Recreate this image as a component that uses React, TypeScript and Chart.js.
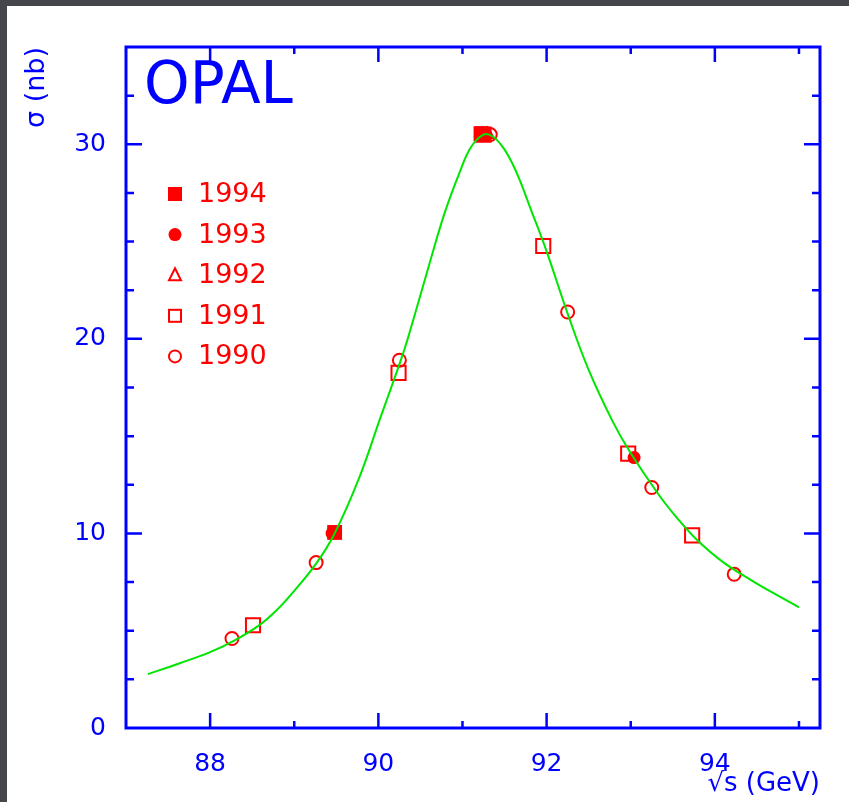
import React, { useEffect, useRef } from "react";
import { Chart, registerables } from "chart.js";

Chart.register(...registerables);

// ---------- data ----------
const experimentName = "OPAL";
const seriesNames = ["1994", "1993", "1992", "1991", "1990"];

const x1994 = [89.48, 91.22];
const y1994 = [10.05, 30.55];

const x1993 = [89.45, 91.28, 93.04];
const y1993 = [10.0, 30.45, 13.9];

const x1992 = [91.3];
const y1992 = [30.5];

const x1991 = [88.51, 90.24, 91.25, 91.96, 92.97, 93.73];
const y1991 = [5.28, 18.25, 30.5, 24.77, 14.1, 9.9];

const x1990 = [88.26, 89.26, 90.25, 91.33, 92.25, 93.25, 94.23];
const y1990 = [4.6, 8.5, 18.9, 30.5, 21.38, 12.36, 7.9];

const fitX = [
  87.26, 87.64, 88.0, 88.27, 88.59, 88.79, 88.98, 89.26, 89.48, 89.78, 90.02,
  90.29, 90.43, 90.61, 90.79, 90.97, 91.1, 91.25, 91.36, 91.48, 91.6, 91.7,
  91.8, 92.0, 92.25, 92.5, 92.78, 92.99, 93.34, 93.54, 93.78, 94.09, 94.45,
  94.73, 95.0,
];
const fitY = [
  2.77, 3.33, 3.9, 4.45, 5.3, 6.05, 6.95, 8.45, 10.0, 12.95, 15.9, 19.2, 21.2,
  23.9, 26.5, 28.6, 29.85, 30.5, 30.4, 29.85, 28.95, 27.95, 26.8, 24.5, 21.3,
  18.4, 15.8, 14.2, 11.95, 10.85, 9.7, 8.55, 7.55, 6.85, 6.2,
];

const xTickLabels = [88, 90, 92, 94];
const xMinorTicks = [88, 89, 90, 91, 92, 93, 94, 95];
const yTickLabels = [0, 10, 20, 30];
const yMinorTicks = [2.5, 5, 7.5, 10, 12.5, 15, 17.5, 20, 22.5, 25, 27.5, 30, 32.5];

const xTitle = "√s (GeV)";
const yTitle = "σ (nb)";

// ---------- styles ----------
const BLUE = "#0000ff";
const RED = "#ff0000";
const GREEN = "#00e600";
const FONT = "DejaVu Sans";

type Sym = "fsquare" | "fcircle" | "otriangle" | "osquare" | "ocircle";
const seriesSymbols: Sym[] = ["fsquare", "fcircle", "otriangle", "osquare", "ocircle"];

function drawLegendSymbol(ctx: CanvasRenderingContext2D, s: Sym, cx: number, cy: number) {
  ctx.fillStyle = RED;
  ctx.strokeStyle = RED;
  ctx.lineWidth = 2;
  ctx.beginPath();
  if (s === "fsquare") {
    ctx.fillRect(cx - 7, cy - 7, 14, 14);
  } else if (s === "fcircle") {
    ctx.arc(cx, cy, 6.5, 0, Math.PI * 2);
    ctx.fill();
  } else if (s === "otriangle") {
    ctx.moveTo(cx, cy - 7);
    ctx.lineTo(cx + 6, cy + 5);
    ctx.lineTo(cx - 6, cy + 5);
    ctx.closePath();
    ctx.stroke();
  } else if (s === "osquare") {
    ctx.strokeRect(cx - 6, cy - 6, 12, 12);
  } else {
    ctx.arc(cx, cy, 6, 0, Math.PI * 2);
    ctx.stroke();
  }
}

const framePlugin = {
  id: "opalFrame",
  afterDatasetsDraw(chart: any) {
    const { ctx, chartArea: a, scales } = chart;
    const xs = scales.x;
    const ys = scales.y;
    ctx.save();
    // frame
    ctx.strokeStyle = BLUE;
    ctx.lineWidth = 3;
    ctx.strokeRect(a.left, a.top, a.right - a.left, a.bottom - a.top);
    // inward ticks
    ctx.lineWidth = 2.5;
    ctx.beginPath();
    for (const v of xMinorTicks) {
      const len = xTickLabels.includes(v) ? 15 : 7;
      const px = xs.getPixelForValue(v);
      ctx.moveTo(px, a.bottom);
      ctx.lineTo(px, a.bottom - len);
      ctx.moveTo(px, a.top);
      ctx.lineTo(px, a.top + len);
    }
    for (const v of yMinorTicks) {
      const len = yTickLabels.includes(v) ? 16 : 8;
      const py = ys.getPixelForValue(v);
      ctx.moveTo(a.left, py);
      ctx.lineTo(a.left + len, py);
      ctx.moveTo(a.right, py);
      ctx.lineTo(a.right - len, py);
    }
    ctx.stroke();
    // experiment label
    ctx.fillStyle = BLUE;
    ctx.font = `58px "${FONT}"`;
    ctx.textAlign = "left";
    ctx.textBaseline = "alphabetic";
    ctx.fillText(experimentName, a.left + 18, a.top + 56);
    // legend
    ctx.font = `27px "${FONT}"`;
    ctx.textBaseline = "middle";
    seriesNames.forEach((name, i) => {
      const cy = a.top + 147 + i * 40.6;
      drawLegendSymbol(ctx, seriesSymbols[i], a.left + 49, cy);
      ctx.fillStyle = RED;
      ctx.fillText(name, a.left + 72, cy + 1);
    });
    ctx.restore();
  },
};

function pts(xs: number[], ys: number[]) {
  return xs.map((v, i) => ({ x: v, y: ys[i] }));
}

export default function App() {
  const ref = useRef<HTMLCanvasElement | null>(null);

  useEffect(() => {
    if (!ref.current) return;
    const common = { showLine: false, borderColor: RED, backgroundColor: RED };
    const chart = new Chart(ref.current, {
      type: "scatter",
      data: {
        datasets: [
          {
            label: "fit",
            data: pts(fitX, fitY),
            showLine: true,
            borderColor: GREEN,
            backgroundColor: GREEN,
            borderWidth: 2,
            pointRadius: 0,
            tension: 0.4,
            fill: false,
          } as any,
          { ...common, label: seriesNames[0], data: pts(x1994, y1994), pointStyle: "rect", pointRadius: 10.5, borderWidth: 0 },
          { ...common, label: seriesNames[1], data: pts(x1993, y1993), pointStyle: "circle", pointRadius: 6.5, borderWidth: 0 },
          { ...common, label: seriesNames[2], data: pts(x1992, y1992), pointStyle: "triangle", pointRadius: 7, borderWidth: 2, backgroundColor: "rgba(0,0,0,0)" },
          { ...common, label: seriesNames[3], data: pts(x1991, y1991), pointStyle: "rect", pointRadius: 10, borderWidth: 2, backgroundColor: "rgba(0,0,0,0)" },
          { ...common, label: seriesNames[4], data: pts(x1990, y1990), pointStyle: "circle", pointRadius: 6.5, borderWidth: 2, backgroundColor: "rgba(0,0,0,0)" },
        ],
      },
      options: {
        animation: false,
        responsive: false,
        devicePixelRatio: 1,
        events: [],
        layout: { padding: { top: 47, right: 29, left: 0, bottom: 0 } },
        plugins: { legend: { display: false }, tooltip: { enabled: false } },
        scales: {
          x: {
            type: "linear",
            min: 87,
            max: 95.25,
            grid: { display: false, drawTicks: false },
            border: { display: false },
            afterBuildTicks: (s: any) => {
              s.ticks = xTickLabels.map((v) => ({ value: v }));
            },
            afterFit: (s: any) => {
              s.height = 74;
            },
            ticks: {
              color: BLUE,
              font: { family: FONT, size: 25 },
              padding: 21,
              maxRotation: 0,
              autoSkip: false,
              callback: (v: any) => String(v),
            },
            title: {
              display: true,
              text: xTitle,
              align: "end",
              color: BLUE,
              font: { family: FONT, size: 26, lineHeight: 1.2 },
              padding: { top: 0, bottom: 2 },
            },
          },
          y: {
            type: "linear",
            min: 0,
            max: 35,
            grid: { display: false, drawTicks: false },
            border: { display: false },
            afterBuildTicks: (s: any) => {
              s.ticks = yTickLabels.map((v) => ({ value: v }));
            },
            afterFit: (s: any) => {
              s.width = 126;
            },
            ticks: {
              color: BLUE,
              font: { family: FONT, size: 25 },
              padding: 20,
              autoSkip: false,
              callback: (v: any) => String(v),
            },
            title: {
              display: true,
              text: yTitle,
              align: "end",
              color: BLUE,
              font: { family: FONT, size: 27, lineHeight: 1.2 },
              padding: { top: 21, bottom: 0 },
            },
          },
        },
      },
      plugins: [framePlugin],
    });
    return () => chart.destroy();
  }, []);

  return (
    <div
      style={{
        position: "fixed",
        left: 0,
        top: 0,
        width: 849,
        height: 802,
        background: "#45464c",
        overflow: "hidden",
      }}
    >
      <div
        style={{
          position: "absolute",
          left: 7,
          top: 6,
          right: 0,
          bottom: 0,
          background: "#ffffff",
        }}
      />
      <canvas
        ref={ref}
        width={849}
        height={802}
        style={{ position: "absolute", left: 0, top: 0 }}
      />
    </div>
  );
}
